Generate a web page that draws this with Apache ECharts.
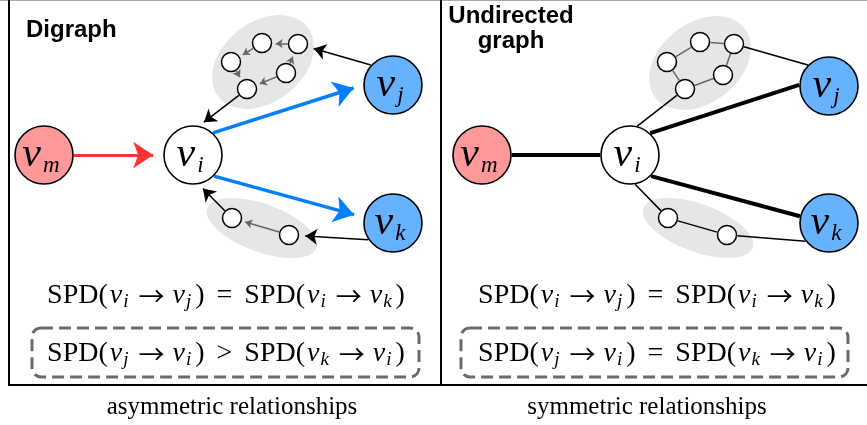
<!DOCTYPE html>
<html>
<head>
<meta charset="utf-8">
<title>Digraph vs undirected graph</title>
<script src="https://cdn.jsdelivr.net/npm/echarts@6/dist/echarts.min.js"></script>
<style>
html, body { margin: 0; padding: 0; background: #fff; }
#main { width: 867px; height: 425px; }
</style>
</head>
<body>
<div id="main"></div>
<script>
// node order: vm, vi, vj, vk, a1..a5 (upper cluster), b1, b2 (lower cluster)
var nodeKeys = ['vm', 'vi', 'vj', 'vk', 'a1', 'a2', 'a3', 'a4', 'a5', 'b1', 'b2'];
var leftX  = [44, 193, 393, 393, 231, 262, 298, 286, 247, 232, 289];
var leftY  = [155, 155, 85, 223, 62, 43, 44, 73, 89, 218, 235];
var rightX = [482, 630, 829, 829, 667, 700, 734, 723, 685, 668, 727];
var rightY = [155, 155, 86, 223, 62, 42, 44, 75, 89, 218, 235];
var bigSubs  = ['m', 'i', 'j', 'k'];
var bigFills = ['#FF9999', '#FFFFFF', '#66B2FF', '#66B2FF'];

// grey cluster backgrounds (upper, lower)
var blobLeftX  = [263, 262];
var blobLeftY  = [62, 228];
var blobRightX = [700, 698];
var blobRightY = [63, 228];

// edges: [from, to, angle on "from" circle, angle on "to" circle]  (deg, null = aim at the other end)
var leftRed   = [['vm', 'vi', null, null]];
var leftBlue  = [['vi', 'vj', -48, 180], ['vi', 'vk', 45, 191]];
var leftBlack = [['vj', 'a3', 222, null], ['a5', 'vi', null, -78], ['vk', 'b2', 146, null], ['b1', 'vi', null, 79]];
var leftGray  = [['a3', 'a2'], ['a2', 'a1'], ['a1', 'a5'], ['a4', 'a3'], ['a4', 'a5'], ['b2', 'b1']];
var rightThick = [['vm', 'vi', null, null], ['vi', 'vj', -47, 182], ['vi', 'vk', 45, 193]];
var rightThin  = [['a3', 'vj', null, 225], ['a5', 'vi', null, -76], ['vi', 'b1', 80, null], ['b2', 'vk', null, 142], ['b1', 'b2']];
var rightGray  = [['a1', 'a2'], ['a2', 'a3'], ['a3', 'a4'], ['a4', 'a5'], ['a5', 'a1']];

var leftTitle = 'Digraph';
var rightTitle = 'Undirected\ngraph';
var leftEq1  = '{n|SPD(}{v|v}{s|i}{a|→}{v|v}{s|j}{n|)}{o|=}{n|SPD(}{v|v}{s|i}{a|→}{v|v}{s|k}{n|)}';
var leftEq2  = '{n|SPD(}{v|v}{s|j}{a|→}{v|v}{s|i}{n|)}{o|>}{n|SPD(}{v|v}{s|k}{a|→}{v|v}{s|i}{n|)}';
var rightEq1 = leftEq1;
var rightEq2 = '{n|SPD(}{v|v}{s|j}{a|→}{v|v}{s|i}{n|)}{o|=}{n|SPD(}{v|v}{s|k}{a|→}{v|v}{s|i}{n|)}';
var leftCaption = 'asymmetric relationships';
var rightCaption = 'symmetric relationships';

var R_BIG = 29, R_SMALL = 9.5;
var SERIF = '"Liberation Serif", "DejaVu Serif", serif';
var SANS = '"Liberation Sans", Arial, sans-serif';

function radius(key) { return key.charAt(0) === 'v' ? R_BIG + 0.8 : R_SMALL + 0.8; }
function onCircle(p, r, deg) {
    var a = deg * Math.PI / 180;
    return [p[0] + r * Math.cos(a), p[1] + r * Math.sin(a)];
}
function toward(p, t, d) {
    var dx = t[0] - p[0], dy = t[1] - p[1];
    var l = Math.sqrt(dx * dx + dy * dy);
    return [p[0] + d * dx / l, p[1] + d * dy / l];
}
function edgeData(edges, xs, ys, arrow) {
    return edges.map(function (e) {
        var ia = nodeKeys.indexOf(e[0]), ib = nodeKeys.indexOf(e[1]);
        var p = [xs[ia], ys[ia]], q = [xs[ib], ys[ib]];
        var A = e[2] != null ? onCircle(p, radius(e[0]), e[2]) : null;
        var B = e[3] != null ? onCircle(q, radius(e[1]), e[3]) : null;
        if (!A) A = toward(p, B || q, radius(e[0]));
        if (!B) B = toward(q, A, radius(e[1]));
        if (arrow) B = toward(B, A, arrow / 2);   // arrow head is centred on the line end
        return { coords: [A, B] };
    });
}
function linesSeries(data, color, width, arrow) {
    return {
        type: 'lines', coordinateSystem: 'cartesian2d', z: 3, silent: true,
        symbol: arrow ? ['none', 'arrow'] : 'none', symbolSize: arrow || 0,
        lineStyle: { color: color, width: width, opacity: 1, curveness: 0 },
        data: data
    };
}
function blobSeries(xs, ys) {
    var shapes = [{ size: [113, 80], rot: 38 }, { size: [116, 48], rot: -20 }];
    return {
        type: 'scatter', z: 1, silent: true,
        itemStyle: { color: '#E6E6E6', opacity: 1 },
        data: xs.map(function (x, i) {
            return { value: [x, ys[i]], symbolSize: shapes[i].size, symbolRotate: shapes[i].rot };
        })
    };
}
function smallSeries(xs, ys) {
    var d = [];
    for (var i = 4; i < nodeKeys.length; i++) d.push([xs[i], ys[i]]);
    return {
        type: 'scatter', z: 4, silent: true, symbolSize: R_SMALL * 2,
        itemStyle: { color: '#fff', borderColor: '#000', borderWidth: 1.5, opacity: 1 },
        data: d
    };
}
function bigSeries(xs, ys) {
    return {
        type: 'scatter', z: 5, silent: true, symbolSize: R_BIG * 2,
        itemStyle: { borderColor: '#000', borderWidth: 1.6, opacity: 1 },
        label: {
            show: true, position: 'inside', offset: [-3, 0],
            rich: {
                v: { fontFamily: SERIF, fontStyle: 'italic', fontSize: 42, color: '#000', lineHeight: 40, verticalAlign: 'middle' },
                s: { fontFamily: SERIF, fontStyle: 'italic', fontSize: 23, color: '#000', lineHeight: 22, verticalAlign: 'bottom', padding: [0, 0, -2, 2] }
            }
        },
        data: bigSubs.map(function (s, i) {
            return {
                value: [xs[i], ys[i]],
                itemStyle: { color: bigFills[i] },
                label: { formatter: '{v|v}{s|' + s + '}' }
            };
        })
    };
}

var eqRich = {
    n: { fontFamily: SERIF, fontSize: 28, fill: '#000', lineHeight: 30 },
    v: { fontFamily: SERIF, fontStyle: 'italic', fontSize: 28, fill: '#000', lineHeight: 30, padding: [0, 1, 0, 2] },
    s: { fontFamily: SERIF, fontStyle: 'italic', fontSize: 19, fill: '#000', lineHeight: 18, verticalAlign: 'bottom', padding: [0, 4, 0, 0] },
    a: { fontFamily: '"Noto Sans CJK SC", "DejaVu Sans", sans-serif', fontSize: 26, fill: '#000', lineHeight: 30, padding: [0, 6, 0, 6] },
    o: { fontFamily: SERIF, fontSize: 28, fill: '#000', lineHeight: 30, padding: [0, 12, 0, 12] }
};
function eqText(x, y, str) {
    return { type: 'text', z: 10, silent: true, style: { x: x, y: y, text: str, rich: eqRich, align: 'center', verticalAlign: 'middle' } };
}
function dashedBox(x, y, w, h) {
    return {
        type: 'rect', z: 10, silent: true,
        shape: { x: x, y: y, width: w, height: h, r: 9 },
        style: { fill: null, stroke: '#6B6B6B', lineWidth: 3, lineDash: [12, 6] }
    };
}
function frameLine(x1, y1, x2, y2, color, w) {
    return { type: 'line', z: 10, silent: true, shape: { x1: x1, y1: y1, x2: x2, y2: y2 }, style: { stroke: color, lineWidth: w } };
}

var chart = echarts.init(document.getElementById('main'));
var option = {
    animation: false,
    backgroundColor: '#fff',
    grid: { left: 0, right: 0, top: 0, bottom: 0 },
    xAxis: { type: 'value', min: 0, max: 867, show: false },
    yAxis: { type: 'value', min: 0, max: 425, inverse: true, show: false },
    series: [
        blobSeries(blobLeftX, blobLeftY),
        blobSeries(blobRightX, blobRightY),
        linesSeries(edgeData(leftGray, leftX, leftY, 7), '#666666', 1.5, 7),
        linesSeries(edgeData(leftBlack, leftX, leftY, 12), '#000000', 1.5, 12),
        linesSeries(edgeData(leftRed, leftX, leftY, 20), '#FF3333', 3, 20),
        linesSeries(edgeData(leftBlue, leftX, leftY, 20), '#007FFF', 3.5, 20),
        linesSeries(edgeData(rightGray, rightX, rightY, 0), '#666666', 1.5, 0),
        linesSeries(edgeData(rightThin, rightX, rightY, 0), '#000000', 1.5, 0),
        linesSeries(edgeData(rightThick, rightX, rightY, 0), '#000000', 4, 0),
        smallSeries(leftX, leftY),
        smallSeries(rightX, rightY),
        bigSeries(leftX, leftY),
        bigSeries(rightX, rightY)
    ],
    graphic: [
        frameLine(0, 0.5, 867, 0.5, '#AAAAAA', 1),
        frameLine(9, 0, 9, 386, '#000', 2),
        frameLine(441, 0, 441, 386, '#000', 2),
        frameLine(8, 385, 867, 385, '#000', 2),
        { type: 'text', z: 10, silent: true, style: { x: 26, y: 30, text: leftTitle, font: 'bold 24px ' + SANS, fill: '#000', verticalAlign: 'middle' } },
        { type: 'text', z: 10, silent: true, style: { x: 511, y: 4, text: rightTitle, font: 'bold 24px ' + SANS, fill: '#000', align: 'center', verticalAlign: 'top', lineHeight: 25 } },
        eqText(226, 296, leftEq1),
        eqText(657, 296, rightEq1),
        dashedBox(32, 328, 387, 49),
        dashedBox(461, 328, 387, 49),
        eqText(226, 354, leftEq2),
        eqText(657, 354, rightEq2),
        { type: 'text', z: 10, silent: true, style: { x: 232, y: 407, text: leftCaption, font: '25px ' + SERIF, fill: '#000', align: 'center', verticalAlign: 'middle' } },
        { type: 'text', z: 10, silent: true, style: { x: 647, y: 407, text: rightCaption, font: '25px ' + SERIF, fill: '#000', align: 'center', verticalAlign: 'middle' } }
    ]
};
chart.setOption(option);
</script>
</body>
</html>
